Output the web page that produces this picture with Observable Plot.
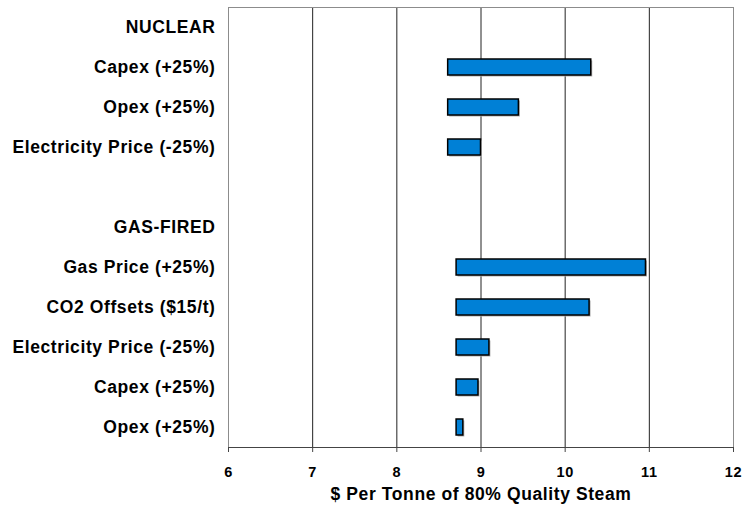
<!DOCTYPE html>
<html>
<head>
<meta charset="utf-8">
<script src="https://cdn.jsdelivr.net/npm/d3@7"></script>
<script src="https://cdn.jsdelivr.net/npm/@observablehq/plot@0.6"></script>
<style>
  html, body { margin: 0; padding: 0; background: #fff; }
  #chart svg { font-family: "Liberation Sans", Arial, sans-serif; font-weight: bold; }
</style>
</head>
<body>
<div id="chart"></div>
<script>
// ---- data ----
const nuclearHeader = "NUCLEAR";
const nuclearLabels = ["Capex (+25%)", "Opex (+25%)", "Electricity Price (-25%)"];
const nuclearBase = 8.61;
const nuclearHigh = [10.31, 9.45, 9.00];

const gasHeader = "GAS-FIRED";
const gasLabels = ["Gas Price (+25%)", "CO2 Offsets ($15/t)", "Electricity Price (-25%)", "Capex (+25%)", "Opex (+25%)"];
const gasBase = 8.71;
const gasHigh = [10.96, 10.29, 9.10, 8.97, 8.79];

const xTicks = [6, 7, 8, 9, 10, 11, 12];
const xTitle = "$ Per Tonne of 80% Quality Steam";

// ---- build rows (unique keys so duplicate labels get their own band) ----
const rows = [];
rows.push({key: "r0", label: nuclearHeader});
nuclearLabels.forEach((l, i) => rows.push({key: "r" + rows.length, label: l, lo: nuclearBase, hi: nuclearHigh[i]}));
rows.push({key: "r" + rows.length, label: ""});
rows.push({key: "r" + rows.length, label: gasHeader});
gasLabels.forEach((l, i) => rows.push({key: "r" + rows.length, label: l, lo: gasBase, hi: gasHigh[i]}));
const labelOf = new Map(rows.map(r => [r.key, r.label]));
const bars = rows.filter(r => r.hi != null);

const chart = Plot.plot({
  width: 743,
  height: 514,
  marginLeft: 228,
  marginRight: 10,
  marginTop: 7,
  marginBottom: 67,
  style: {fontFamily: '"Liberation Sans", Arial, sans-serif', fontWeight: "bold", background: "#fff", color: "#000"},
  x: {domain: [6, 12], ticks: xTicks},
  y: {domain: rows.map(r => r.key), paddingInner: 0.6, paddingOuter: 0.3},
  marks: [
    Plot.ruleX([7, 8, 9, 10, 11], {stroke: "#222", strokeWidth: 1}),
    Plot.frame({stroke: "#8c8c8c", strokeWidth: 1}),
    Plot.frame({anchor: "bottom", stroke: "#444", strokeWidth: 1}),
    Plot.barX(bars, {x1: "lo", x2: "hi", y: "key", fill: "#b0b0b0", dx: 1.5, dy: 1.5}),
    Plot.barX(bars, {x1: "lo", x2: "hi", y: "key", fill: "#0080d6", stroke: "#000", strokeWidth: 1.5}),
    Plot.axisX({ticks: xTicks, tickSize: 5, tickPadding: 14, fontSize: 14.5, fontWeight: "bold", tickFormat: d => String(d), label: null, stroke: "#444"}),
    Plot.axisY({tickSize: 0, tickPadding: 13, fontSize: 17.5, fontWeight: "bold", tickFormat: k => labelOf.get(k), label: null}),
    Plot.text([xTitle], {frameAnchor: "bottom", dy: 52, fontSize: 17.5, fontWeight: "bold", fill: "#000", text: d => d})
  ]
});
// tighten typography to the reference (slightly tracked bold Arial)
const svg = d3.select(chart);
svg.selectAll('g[aria-label="x-axis tick label"] text').style("font-size", "14.5px").style("font-weight", "bold").style("letter-spacing", "0.6px").attr("fill", "#000");
svg.selectAll('g[aria-label="y-axis tick label"] text').style("font-size", "17.5px").style("letter-spacing", "0.6px").attr("fill", "#000");
svg.selectAll('g[aria-label="text"] text').style("letter-spacing", "0.6px");
document.getElementById("chart").appendChild(chart);
</script>
</body>
</html>
